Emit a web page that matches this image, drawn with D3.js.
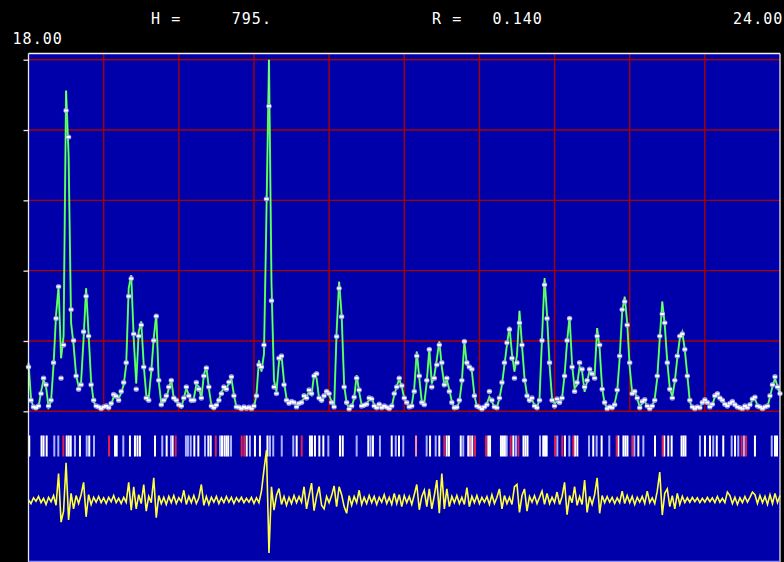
<!DOCTYPE html>
<html>
<head>
<meta charset="utf-8">
<script src="https://cdn.jsdelivr.net/npm/d3@7"></script>
<style>
  html, body { margin: 0; padding: 0; background: #000; }
  svg { display: block; }
  text { font-family: "DejaVu Sans Mono", "Liberation Mono", monospace; font-size: 15px; fill: #fff; letter-spacing: 1.05px; white-space: pre; }
</style>
</head>
<body>
<svg id="chart" width="784" height="562"></svg>
<script>
// Powder profile: scan grid (degrees 2-theta)
const scanStart = 18.0;
const scanStep = 0.02;
const thetaMin = 18.0;
const thetaMax = 24.0;

// Calculated profile (counts), one value per scan step
const calcCounts = [
  110,29,7,5,10,44,71,56,10,22,
  105,218,282,120,170,725,580,200,150,82,
  56,67,165,278,173,67,22,10,8,7,
  8,10,10,14,33,37,29,41,60,105,
  278,308,165,63,180,203,105,37,29,90,
  165,220,67,18,22,29,52,71,29,22,
  18,10,29,52,37,22,29,60,56,29,
  82,101,52,14,7,10,26,44,52,52,
  63,75,37,10,8,7,7,8,7,8,
  9,37,115,90,130,450,795,290,70,45,
  112,127,67,29,22,18,22,14,14,22,
  29,33,44,37,82,75,29,22,33,44,
  37,22,7,180,293,218,60,18,7,10,
  29,82,44,14,10,18,26,31,14,7,
  14,10,10,7,8,10,37,56,73,56,
  29,18,10,14,52,135,75,22,18,67,
  142,63,80,118,158,100,60,71,48,22,
  7,7,22,67,157,105,101,90,37,10,
  7,7,8,18,33,22,8,10,29,60,
  105,150,191,130,90,127,227,150,75,37,
  22,26,14,7,29,165,301,218,105,29,
  18,22,22,29,82,157,214,105,52,60,
  101,90,44,67,93,82,82,188,142,52,
  18,8,7,8,18,44,120,225,259,200,
  100,41,44,29,10,18,24,10,8,10,
  29,75,165,248,195,112,52,33,67,120,
  165,179,139,82,22,8,7,8,10,18,
  23,22,10,14,33,38,29,22,18,14,
  16,20,18,8,7,8,10,10,14,26,
  28,14,8,7,8,10,33,56,75,56,
  37
];

// Observed intensities (counts)
const obsCounts = [
  100,25,10,8,12,40,75,60,12,25,
  110,210,282,75,150,680,620,230,160,80,
  50,60,180,260,170,60,25,12,10,6,
  10,12,8,18,38,34,25,45,65,110,
  260,300,175,50,170,195,100,30,25,95,
  160,215,70,15,25,35,55,70,30,25,
  15,12,30,55,35,25,25,65,50,30,
  80,98,55,12,8,14,25,40,55,50,
  66,78,35,10,9,6,10,7,9,6,
  12,35,105,100,150,480,690,250,55,40,
  120,125,60,25,18,22,20,10,18,20,
  35,30,48,40,80,85,30,25,35,45,
  40,20,10,169,278,214,55,20,5,12,
  32,75,48,12,14,16,30,28,12,8,
  16,8,12,9,6,12,40,55,75,58,
  30,20,10,12,45,125,80,20,15,70,
  140,55,75,105,150,110,60,75,45,20,
  8,9,25,70,158,110,100,95,35,12,
  9,5,10,15,45,25,10,8,30,65,
  110,155,185,120,75,110,200,150,70,35,
  25,30,12,8,25,160,286,210,110,25,
  12,28,20,30,80,160,210,100,45,65,
  110,95,55,70,95,85,75,170,150,50,
  20,6,10,8,15,48,125,230,248,195,
  110,40,45,30,8,22,26,12,6,12,
  25,80,170,220,200,110,50,30,70,125,
  170,175,140,80,25,10,6,10,8,20,
  26,20,10,16,35,40,30,25,16,12,
  18,22,15,10,8,6,12,8,15,28,
  32,12,10,6,10,12,35,60,78,55,
  40
];

// Difference curve (obs - calc, counts)
const diffCounts = [
  0,-8,5,-3,8,-6,4,-10,6,-4,
  10,-12,60,-50,-25,84,-45,15,-20,10,
  -8,12,40,-38,12,-10,6,-5,8,-6,
  5,-8,6,-4,10,-6,4,-8,6,-5,
  40,-23,30,-20,12,-8,35,-25,8,-6,
  50,-40,10,-8,6,-10,8,-6,10,-8,
  5,-4,22,-10,8,-6,10,-8,5,35,
  -12,8,-10,6,-5,8,-8,5,-6,8,
  -5,6,-8,5,-4,6,-6,4,-5,6,
  -8,5,-6,20,68,113,-120,30,-23,10,
  26,-10,8,-12,6,-8,10,-6,8,-5,
  30,-20,10,38,-24,8,30,-12,-20,8,
  -6,10,32,-15,30,12,-15,-30,10,-12,
  8,-6,22,-10,6,-8,10,-6,8,-10,
  6,-5,12,-8,6,-10,15,-8,12,-15,
  10,-6,8,-10,12,35,-22,8,22,-15,
  25,-20,10,45,-30,60,-20,25,-15,8,
  -6,10,-8,6,-10,28,-15,8,-6,10,
  -8,6,-5,8,-10,12,-8,6,25,-20,
  10,-8,6,-10,30,35,-28,10,25,-25,
  8,-5,10,-8,6,20,-10,15,-8,6,
  -6,18,-10,8,40,-33,10,-6,30,-12,
  8,-10,45,-28,8,-10,12,50,-30,10,
  -6,8,-5,6,-8,5,-6,20,-8,10,
  -6,8,-10,6,-5,8,-8,20,-6,5,
  -8,20,63,-34,15,25,-15,10,-20,15,
  -10,8,-6,5,-5,6,-4,5,-6,4,
  -5,6,-4,5,-6,8,-5,4,-6,18,
  10,-8,6,-10,5,-6,8,-5,6,18,
  12,-8,10,-6,8,-10,12,-8,15,-6,
  10
];

// Reflection positions (2-theta), grouped by marker colour
const reflectionsWhite = [18.006,18.104,18.120,18.145,18.305,18.321,18.337,18.411,18.485,18.691,18.704,18.810,18.850,18.870,18.890,19.010,19.103,19.151,19.324,19.356,19.436,19.455,19.545,19.565,19.581,19.595,19.742,19.808,19.848,19.908,20.141,20.247,20.263,20.287,20.322,20.354,20.487,20.509,20.713,20.750,20.900,20.958,21.206,21.280,21.339,21.357,21.451,21.511,21.543,21.671,21.685,21.772,21.788,21.804,21.871,21.952,21.968,21.984,22.110,22.124,22.137,22.283,22.363,22.382,22.509,22.576,22.709,22.750,22.766,22.782,22.869,23.002,23.076,23.108,23.135,23.214,23.230,23.245,23.401,23.441,23.495,23.547,23.641,23.800,23.960,23.976];
const reflectionsLavender = [18.206,18.238,18.371,18.465,18.523,18.757,19.068,19.138,19.257,19.273,19.295,19.409,19.529,19.617,19.768,19.928,19.954,20.022,20.114,20.394,20.620,20.731,20.806,20.932,20.992,21.179,21.251,21.471,21.818,21.892,22.084,22.222,22.318,22.475,22.536,22.637,22.837,22.909,23.361,23.467,23.614,23.667,23.712,23.934];
const reflectionsRed = [18.278,18.643,19.175,19.495,19.702,19.723,20.181,21.320,21.565,21.653,21.850,21.911,22.204,22.262,22.350,22.696,22.821,23.063,23.694,23.729];
const reflectionsPink = [21.094,21.525];

// Axis ticks
const yTickValues = [0, 159, 318, 477, 636, 795];
const xGridValues = [18.6, 19.2, 19.8, 20.4, 21.0, 21.6, 22.2, 22.8, 23.4];

// Header labels
const labelH = "H =     795.";
const labelR = "R =   0.140";
const labelMin = "18.00";
const labelMax = "24.00";

// ---------- drawing ----------
const svg = d3.select("#chart");
const frame = { left: 28.5, right: 780, top: 53.5, bottom: 561.5 };

const x = d3.scaleLinear().domain([thetaMin, thetaMax]).range([frame.left, frame.right]);
const y = d3.scaleLinear().domain([0, 795]).range([411.3, 59.7]);
const yDiff = d3.scaleLinear().domain([-100, 100]).range([500 + 44.23, 500 - 44.23]);

const theta = calcCounts.map((_, i) => scanStart + i * scanStep);

svg.append("rect").attr("width", 784).attr("height", 562).attr("fill", "#000");
svg.append("rect")
  .attr("x", frame.left).attr("y", frame.top)
  .attr("width", frame.right - frame.left).attr("height", frame.bottom - frame.top)
  .attr("fill", "#0000aa");

// grid
const grid = svg.append("g").attr("stroke", "#a80000").attr("stroke-width", 1.4);
grid.selectAll("line.h").data(yTickValues).join("line")
  .attr("x1", frame.left).attr("x2", frame.right)
  .attr("y1", d => y(d)).attr("y2", d => y(d));
grid.selectAll("line.v").data(xGridValues).join("line")
  .attr("x1", d => x(d)).attr("x2", d => x(d))
  .attr("y1", frame.top).attr("y2", y(0));

// y ticks (outside the frame)
const yAxis = d3.axisLeft(y).tickValues(yTickValues).tickSize(5).tickFormat("");
const gy = svg.append("g").attr("transform", `translate(${frame.left},0)`).call(yAxis);
gy.select(".domain").remove();
gy.selectAll(".tick line").attr("stroke", "#e8e8e8").attr("stroke-width", 1.3);

// calculated profile
const calcLine = d3.line().x((d, i) => x(theta[i])).y(d => y(d));
svg.append("path").datum(calcCounts)
  .attr("d", calcLine)
  .attr("fill", "none").attr("stroke", "#30f040").attr("stroke-width", 2);
svg.append("path").datum(calcCounts)
  .attr("d", calcLine)
  .attr("fill", "none").attr("stroke", "#9cff9c").attr("stroke-width", 0.7);

// observed points
const obs = svg.append("g");
obs.selectAll("circle").data(obsCounts).join("circle")
  .attr("cx", (d, i) => x(theta[i])).attr("cy", d => y(d))
  .attr("r", 2.7).attr("fill", "#a8a8f0").attr("fill-opacity", 0.85);
obs.selectAll("rect").data(obsCounts).join("rect")
  .attr("x", (d, i) => x(theta[i]) - 2).attr("y", d => y(d) - 1)
  .attr("width", 4).attr("height", 2).attr("fill", "#ffffff");

// reflection markers
const tickTop = 435.5, tickBottom = 456.5;
const groups = [
  [reflectionsWhite, "#ffffff"],
  [reflectionsLavender, "#a8b0ff"],
  [reflectionsRed, "#e0204c"],
  [reflectionsPink, "#ff90a0"]
];
groups.forEach(([vals, col]) => {
  svg.append("g").selectAll("rect").data(vals).join("rect")
    .attr("x", d => x(d) - 1).attr("y", tickTop)
    .attr("width", 2).attr("height", tickBottom - tickTop)
    .attr("fill", col);
});

// difference curve
svg.append("path").datum(diffCounts)
  .attr("d", d3.line().x((d, i) => x(theta[i])).y(d => yDiff(d)))
  .attr("fill", "none").attr("stroke", "#ffff40").attr("stroke-width", 1.6);

// frame
const border = svg.append("g").attr("stroke-width", 1.3);
border.append("line").attr("x1", frame.left).attr("x2", frame.right).attr("y1", frame.top).attr("y2", frame.top).attr("stroke", "#f0f0f0");
border.append("line").attr("x1", frame.left).attr("x2", frame.left).attr("y1", frame.top).attr("y2", 562).attr("stroke", "#e8e8e8");
border.append("line").attr("x1", frame.right).attr("x2", frame.right).attr("y1", frame.top).attr("y2", 562).attr("stroke", "#e8e8e8");
border.append("line").attr("x1", frame.left).attr("x2", frame.right).attr("y1", frame.bottom).attr("y2", frame.bottom).attr("stroke", "#8c8cff");

// header text
svg.append("text").attr("x", 151).attr("y", 24).text(labelH);
svg.append("text").attr("x", 432).attr("y", 24).text(labelR);
svg.append("text").attr("x", 733).attr("y", 24).text(labelMax);
svg.append("text").attr("x", 12.5).attr("y", 43.5).text(labelMin);
</script>
</body>
</html>
